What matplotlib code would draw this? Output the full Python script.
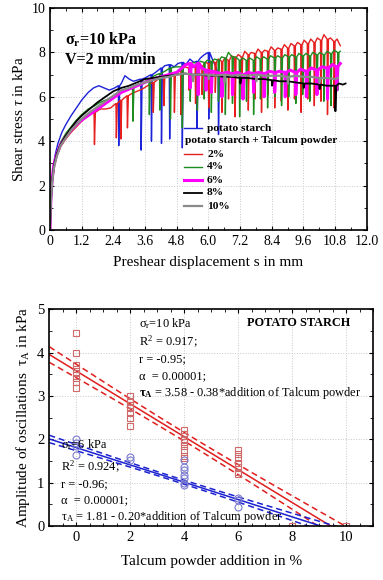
import numpy as np
import matplotlib
matplotlib.use("Agg")
import matplotlib.pyplot as plt
from matplotlib.ticker import MultipleLocator

plt.rcParams['font.family'] = ['Liberation Serif', 'DejaVu Serif']
plt.rcParams['mathtext.fontset'] = 'custom'
plt.rcParams['mathtext.rm'] = 'Liberation Serif'
plt.rcParams['mathtext.it'] = 'Liberation Serif:italic'
plt.rcParams['mathtext.bf'] = 'Liberation Serif:bold'

nan = np.nan

# ---------------- top chart: shear stress vs displacement ----------------
# each series: x, y and the bottom of a sudden drop (nan = no drop there)
blue_x = [0, 0.03, 0.07, 0.12, 0.2, 0.3, 0.45, 0.6, 0.8, 1.0, 1.2, 1.45, 1.65, 1.85, 2.05, 2.25, 2.45,
          2.59, 2.7, 2.84, 3.0, 3.16, 3.3, 3.44, 3.6, 3.83, 4.0, 4.21, 4.35, 4.52, 4.7, 4.85, 5.0,
          5.15, 5.3, 5.45, 5.56, 5.7, 5.85, 6.0, 6.15, 6.3, 6.37, 6.45]
blue_y = [0, 1.0, 2.0, 2.8, 3.4, 3.9, 4.4, 4.75, 5.15, 5.5, 5.85, 6.2, 6.4, 6.5, 6.4, 6.3, 6.4,
          6.5, 6.6, 6.95, 6.8, 6.7, 6.75, 6.8, 6.85, 7.0, 7.1, 7.3, 7.4, 7.45, 7.35, 7.5, 7.55,
          7.45, 7.7, 7.55, 7.6, 7.75, 7.9, 8.0, 7.7, 7.3, 7.0, 6.5]
blue_lo = [nan] * 17 + [3.8, nan, nan, nan, nan, nan, 3.6, nan, 4.0, nan, 3.9, nan, 4.1, nan, nan, 3.7,
                        nan, nan, nan, 4.6, nan, nan, 5.0, nan, nan, 4.3, nan]

red_x = [0, 0.03, 0.08, 0.15, 0.25, 0.4, 0.6, 0.8, 1.0, 1.2, 1.45, 1.67, 1.9, 2.1, 2.3, 2.5, 2.67,
         2.92, 3.1, 3.3, 3.5, 3.7, 3.9, 4.1, 4.3, 4.5, 4.7,
         4.95, 5.1, 5.25, 5.38, 5.5, 5.63, 5.75, 5.88, 6.0, 6.13, 6.25, 6.38, 6.5, 6.63, 6.75, 6.88,
         7.0, 7.13, 7.25, 7.38, 7.5, 7.63, 7.75, 7.88, 8.0, 8.13, 8.25, 8.38, 8.5, 8.63, 8.75, 8.88,
         9.0, 9.13, 9.25, 9.38, 9.5, 9.63, 9.75, 9.88, 10.0, 10.13, 10.25, 10.38, 10.5, 10.63, 10.75,
         10.88, 11.0]
red_y = [0, 1.1, 2.1, 2.8, 3.3, 3.75, 4.1, 4.4, 4.65, 4.9, 5.15, 5.3, 5.45, 5.45, 5.5, 5.7, 5.85,
         6.05, 6.15, 6.25, 6.35, 6.5, 6.65, 6.8, 6.9, 6.95, 7.0,
         7.2, 7.35, 7.3, 7.4, 7.35, 7.5, 7.4, 7.55, 7.5, 7.6, 7.55, 7.7, 7.6, 7.75, 7.65, 7.85,
         7.75, 7.9, 7.8, 8.05, 7.9, 8.0, 7.95, 8.15, 8.0, 8.1, 8.05, 8.25, 8.1, 8.2, 8.15, 8.35,
         8.2, 8.4, 8.3, 8.45, 8.35, 8.55, 8.4, 8.6, 8.45, 8.65, 8.55, 8.8, 8.6, 8.65, 8.5,
         8.6, 8.3]
red_lo = [nan] * 11 + [3.85, nan, nan, nan, 4.15, 4.1, 4.6, nan, nan, nan, nan, 5.3, nan, 5.6, nan, 5.3,
                       5.2, nan, 6.3, nan, 5.7, nan, 6.1, nan, 5.5, nan, 6.2, nan, 5.3, nan, 5.9, nan,
                       5.1, nan, 6.0, nan, 5.4, nan, 5.9, nan, 5.3, nan, 6.1, nan, 5.5, nan, 5.8, nan,
                       5.4, nan, 5.9, nan, 5.3, nan, 5.9, nan, 5.6, nan, 5.8, nan, 5.2, nan, 5.5,
                       nan, nan]

green_x = [0, 0.03, 0.08, 0.15, 0.25, 0.4, 0.6, 0.8, 1.0, 1.2, 1.45, 1.7, 1.9, 2.1, 2.3, 2.5, 2.7,
           2.9, 3.13, 3.3, 3.5, 3.75, 3.95, 4.15, 4.35, 4.55, 4.75,
           5.0, 5.15, 5.3, 5.43, 5.57, 5.7, 5.83, 5.96, 6.1, 6.23, 6.37, 6.5, 6.63, 6.76, 6.9, 7.03,
           7.17, 7.3, 7.43, 7.56, 7.7, 7.83, 7.96, 8.1, 8.23, 8.36, 8.5, 8.63, 8.76, 8.9, 9.03, 9.16,
           9.3, 9.43, 9.56, 9.7, 9.83, 9.96, 10.1, 10.23, 10.36, 10.5, 10.63, 10.76, 10.9, 11.0]
green_y = [0, 1.2, 2.2, 2.9, 3.45, 3.95, 4.35, 4.65, 4.95, 5.2, 5.45, 5.6, 5.75, 5.85, 5.95, 6.1, 6.2,
           6.3, 6.4, 6.5, 6.6, 6.8, 6.95, 7.05, 7.15, 7.3, 7.35,
           7.35, 7.5, 7.45, 7.55, 7.5, 7.6, 7.55, 7.65, 7.6, 7.7, 7.65, 7.8, 7.75, 8.0, 7.8, 7.8,
           7.65, 7.75, 7.65, 7.75, 7.65, 7.8, 7.7, 7.8, 7.7, 7.85, 7.75, 7.85, 7.75, 7.9, 7.8, 7.9,
           7.8, 7.95, 7.85, 7.95, 7.85, 8.0, 7.9, 8.0, 7.9, 8.05, 7.95, 8.1, 8.0, 8.05]
green_lo = [nan] * 18 + [4.9, nan, nan, 5.2, nan, 5.4, nan, 5.0, nan,
                         4.6, nan, 5.8, nan, 5.4, nan, 5.9, nan, 5.3, nan, 5.8, nan, 5.2, nan, 5.7, nan,
                         5.1, nan, 5.8, nan, 5.2, nan, 5.9, nan, 5.5, nan, 6.0, nan, 5.6, nan, 6.0, nan,
                         5.7, nan, 6.1, nan, 5.8, nan, 6.1, nan, 5.8, nan, 5.6, nan, 6.3, nan]

pink_x = [0, 0.03, 0.08, 0.15, 0.25, 0.4, 0.6, 0.8, 1.0, 1.2, 1.5, 1.8, 2.1, 2.4, 2.7, 3.0, 3.3,
          3.6, 3.9, 4.2, 4.5, 4.8, 5.0, 5.15, 5.3, 5.45, 5.6, 5.75, 5.9,
          6.1, 6.3, 6.5, 6.7, 6.9, 7.1, 7.3, 7.5, 7.7, 7.9, 8.1, 8.3, 8.5, 8.7, 8.9, 9.1, 9.3, 9.5,
          9.7, 9.9, 10.1, 10.3, 10.5, 10.7, 10.85, 11.0]
pink_y = [0, 1.3, 2.3, 2.95, 3.4, 3.85, 4.2, 4.5, 4.75, 4.95, 5.2, 5.45, 5.7, 5.95, 6.2, 6.35, 6.5,
          6.65, 6.8, 6.9, 7.0, 7.1, 7.3, 7.45, 7.5, 7.35, 7.5, 7.3, 7.2,
          7.15, 7.1, 7.05, 7.1, 7.05, 7.1, 7.0, 7.1, 7.05, 7.1, 7.05, 7.15, 7.1, 7.15, 7.1, 7.2, 7.1, 7.25,
          7.15, 7.3, 7.2, 7.35, 7.3, 7.45, 7.35, 7.5]
pink_lo = [nan] * 24 + [6.4, nan, 6.1, nan, 6.3,
                        6.2, nan, 6.0, nan, 6.1, nan, 5.9, nan, 6.2, nan, 6.0, nan, 6.2, nan, 6.0, nan, 6.1,
                        nan, 6.0, nan, 6.1, nan, 5.9, nan, 6.3, nan]

black_x = [0, 0.03, 0.08, 0.15, 0.25, 0.4, 0.6, 0.8, 1.0, 1.2, 1.5, 1.8, 2.1, 2.4, 2.7, 3.0, 3.3,
           3.6, 3.9, 4.2, 4.5, 4.8, 5.1, 5.4, 5.7, 6.0, 6.3, 6.6, 6.9, 7.2, 7.5, 7.8, 8.1, 8.4, 8.7,
           9.0, 9.3, 9.6, 9.9, 10.2, 10.5, 10.8, 10.95, 11.1, 11.2]
black_y = [0, 1.2, 2.2, 2.9, 3.4, 3.85, 4.25, 4.6, 4.9, 5.15, 5.45, 5.75, 6.0, 6.25, 6.4, 6.5, 6.65,
           6.8, 6.85, 6.9, 6.95, 7.0, 7.05, 7.0, 7.0, 6.95, 6.95, 6.9, 6.9, 6.85, 6.85, 6.8, 6.8, 6.75,
           6.7, 6.7, 6.65, 6.6, 6.6, 6.55, 6.5, 6.5, 6.6, 6.55, 6.6]
black_lo = [nan] * 29 + [6.6, nan, nan, nan, 6.5, nan, nan, nan, 6.4, nan, 6.35, nan, 5.35, nan, nan, nan]

gray_x = [0, 0.03, 0.08, 0.15, 0.25, 0.4, 0.6, 0.8, 1.0, 1.2, 1.5, 1.8, 2.1, 2.4, 2.7, 3.0, 3.3,
          3.6, 3.9, 4.2, 4.5, 4.8, 5.1, 5.4, 5.7, 6.0, 6.3, 6.6, 6.9, 7.2, 7.5, 7.8, 8.1, 8.4, 8.7,
          9.0, 9.3, 9.6, 9.9, 10.2, 10.5, 10.8, 10.9]
gray_y = [0, 1.1, 2.1, 2.8, 3.3, 3.8, 4.15, 4.5, 4.75, 5.0, 5.3, 5.55, 5.8, 6.05, 6.3, 6.4, 6.55,
          6.65, 6.75, 6.85, 6.9, 7.0, 7.05, 7.0, 7.0, 7.0, 6.95, 7.0, 6.95, 7.0, 6.95, 7.0, 6.95, 6.95,
          6.95, 6.9, 6.95, 6.9, 6.9, 6.85, 6.85, 6.8, 6.85]
gray_lo = [nan] * 23 + [6.7, nan, 6.8, nan, 6.65, nan, nan, nan, 6.7, nan, nan, nan, 6.6, nan, nan, nan,
                        6.65, nan, nan, nan]

series = [
    (blue_x, blue_y, blue_lo, '#1c22d8', 1.0, 'potato starch'),
    (red_x, red_y, red_lo, '#e61e1e', 1.0, '2%'),
    (green_x, green_y, green_lo, '#1e8c1e', 1.0, '4%'),
    (pink_x, pink_y, pink_lo, '#ff00ff', 2.2, '6%'),
    (black_x, black_y, black_lo, '#000000', 1.3, '8%'),
    (gray_x, gray_y, gray_lo, '#8a8a8a', 1.6, '10%'),
]

top_xticks = [0, 1.2, 2.4, 3.6, 4.8, 6.0, 7.2, 8.4, 9.6, 10.8, 12.0]
top_xticklabels = ['0', '1.2', '2.4', '3.6', '4.8', '6.0', '7.2', '8.4', '9.6', '10.8', '12.0']
top_yticks = [0, 2, 4, 6, 8, 10]

# ---------------- bottom chart: amplitude vs talcum addition ----------------
sq_x = [0, 0, 0, 0, 0, 0, 0, 0, 2, 2, 2, 2, 2, 2, 2, 4, 4, 4, 4, 4, 4, 4, 4,
        6, 6, 6, 6, 6, 6, 6, 8, 10]
sq_y = [4.46, 3.99, 3.72, 3.62, 3.53, 3.41, 3.33, 3.18, 3.0, 2.89, 2.8, 2.72, 2.6, 2.49, 2.32,
        2.22, 2.12, 2.02, 1.93, 1.85, 1.76, 1.62, 1.56,
        1.76, 1.66, 1.56, 1.46, 1.37, 1.25, 1.19, 0.0, 0.0]
ci_x = [0, 0, 0, 0, 2, 2, 4, 4, 4, 4, 4, 4, 4, 6, 6, 6]
ci_y = [2.02, 1.91, 1.85, 1.64, 1.6, 1.52, 1.52, 1.37, 1.29, 1.18, 1.1, 0.99, 0.95, 0.65, 0.6, 0.45]

# regression: intercept, slope; confidence band half-width at its narrowest (x_mid) and at x=-1
fit10 = (3.58, -0.38)
fit6 = (1.81, -0.20)
band10 = (4.0, 0.10, 0.18)
band6 = (3.5, 0.045, 0.085)

bot_xticks = [0, 2, 4, 6, 8, 10]
bot_yticks = [0, 1, 2, 3, 4, 5]


def build(xs, ys, lows):
    px, py = [], []
    for x, y, lo in zip(xs, ys, lows):
        px.append(x)
        py.append(y)
        if not np.isnan(lo):
            px += [x + 0.015, x + 0.05]
            py += [lo, y]
    return px, py


def half_width(xs, xm, h0, h1):
    # hyperbolic shape of a regression confidence band
    return np.sqrt(h0 ** 2 + (h1 ** 2 - h0 ** 2) * ((xs - xm) / (-1 - xm)) ** 2)


fig = plt.figure(figsize=(3.83, 5.80), dpi=100)

# ---- top ----
ax = fig.add_axes([0.1305, 0.6034, 0.8269, 0.3828])
for xs, ys, lows, col, lw, lab in series:
    px, py = build(xs, ys, lows)
    ax.plot(px, py, color=col, lw=lw)

ax.set_xlim(0, 12.0)
ax.set_ylim(0, 10)
ax.set_xticks(top_xticks)
ax.set_xticklabels(top_xticklabels)
ax.set_yticks(top_yticks)
ax.xaxis.set_minor_locator(MultipleLocator(0.6))
ax.yaxis.set_minor_locator(MultipleLocator(1))
ax.tick_params(which='both', direction='in', top=True, right=True, labelsize=10)
ax.tick_params(which='major', length=3)
ax.tick_params(which='minor', length=2)
ax.grid(True, which='major', color='#c8c8c8', ls=':', lw=0.7)
ax.set_xlabel('Preshear displacement s in mm', fontsize=11, labelpad=6)
ax.set_ylabel(r'Shear stress $\tau$ in kPa', fontsize=11, labelpad=4)
for sp in ax.spines.values():
    sp.set_linewidth(1.2)

ax.text(0.048, 0.858, r'σ$_\mathbf{r}$=10 kPa', transform=ax.transAxes, fontsize=11.5,
        fontweight='bold', va='center')
ax.text(0.048, 0.768, 'V=2 mm/min', transform=ax.transAxes, fontsize=11.5,
        fontweight='bold', va='center')

# legend drawn by hand (header row without line)
leg_rows = [0.459, 0.342, 0.284, 0.225, 0.167, 0.108]
for (xs, ys, lows, col, lw, lab), yr in zip(series, leg_rows):
    ax.plot([0.423, 0.48], [yr, yr], transform=ax.transAxes, color=col, lw=lw)
    ax.text(0.496, yr, lab, transform=ax.transAxes, fontsize=8.2, fontweight='bold', va='center')
ax.text(0.426, 0.401, 'potato starch + Talcum powder', transform=ax.transAxes, fontsize=8.2,
        fontweight='bold', va='center')

# ---- bottom ----
bx = fig.add_axes([0.1287, 0.0931, 0.8460, 0.3733])
xl = np.array([-1.0, 11.0])
xs_band = np.linspace(-1, 11, 121)

for (a, b), (xm, h0, h1), col in [(fit10, band10, '#e01e1e'), (fit6, band6, '#1c22d0')]:
    line = a + b * xs_band
    hw = half_width(xs_band, xm, h0, h1)
    bx.plot(xl, a + b * xl, color=col, lw=1.1)
    bx.plot(xs_band, line + hw, color=col, lw=1.1, ls=(0, (4, 2.5)))
    bx.plot(xs_band, line - hw, color=col, lw=1.1, ls=(0, (4, 2.5)))

bx.plot(sq_x, sq_y, ls='none', marker='s', ms=5, mfc='none', mec='#d06a6a', mew=0.8)
bx.plot(ci_x, ci_y, ls='none', marker='o', ms=5, mfc='none', mec='#7a7ad0', mew=0.8)

bx.set_xlim(-1, 11)
bx.set_ylim(0, 5)
bx.set_xticks(bot_xticks)
bx.set_yticks(bot_yticks)
bx.xaxis.set_minor_locator(MultipleLocator(0.5))
bx.yaxis.set_minor_locator(MultipleLocator(0.5))
bx.tick_params(which='both', direction='in', top=True, right=True, labelsize=10.5)
bx.tick_params(which='major', length=3)
bx.tick_params(which='minor', length=2)
bx.grid(True, which='major', color='#c8c8c8', ls=':', lw=0.7)
bx.set_xlabel('Talcum powder addition in %', fontsize=11, labelpad=8)
bx.set_ylabel(r'Amplitude of oscillations  τ$_\mathrm{A}$ in kPa', fontsize=11, labelpad=4)
for sp in bx.spines.values():
    sp.set_linewidth(1.2)

t10 = [r'σ$_\mathrm{r}$=10 kPa', r'R$^2$ = 0.917;', 'r = -0.95;', 'α  = 0.00001;',
       r'$\mathbf{\tau_A}$ = 3.58 - 0.38*addition of Talcum powder']
y10 = [4.68, 4.24, 3.85, 3.46, 3.07]
for s, yy in zip(t10, y10):
    bx.text(2.31, yy, s, fontsize=8.9, va='center')
bx.text(6.32, 4.68, 'POTATO STARCH', fontsize=8.8, fontweight='bold', va='center')

t6 = [r'σ$_\mathrm{r}$=6 kPa', r'R$^2$ = 0.924;', 'r = -0.96;', 'α  = 0.00001;',
      r'τ$_\mathrm{A}$ = 1.81 - 0.20*addition of Talcum powder']
y6 = [1.87, 1.36, 0.97, 0.6, 0.2]
for s, yy in zip(t6, y6):
    bx.text(-0.55, yy, s, fontsize=8.9, va='center')

fig.savefig('out.png', dpi=100)
